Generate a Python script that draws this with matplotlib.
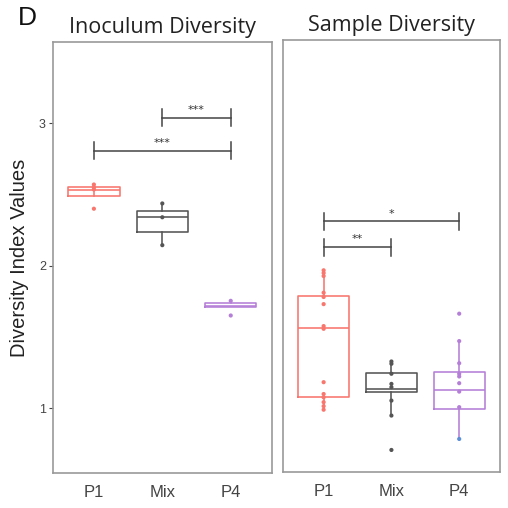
import numpy as np
import matplotlib.pyplot as plt

groups = ['P1', 'Mix', 'P4']
colors = ['#F8766D', '#555555', '#B57ED8']

# box stats: (whislo, q1, med, q3, whishi)
inoc_boxes = [
    (2.55, 2.49, 2.535, 2.553, 2.57),
    (2.144, 2.24, 2.34, 2.387, 2.437),
    (1.707, 1.707, 1.72, 1.735, 1.753),
]
inoc_points = [
    [2.57, 2.55, 2.535, 2.40],
    [2.437, 2.34, 2.144],
    [1.753, 1.65],
]

sample_boxes = [
    (0.98, 1.07, 1.554, 1.774, 1.957),
    (0.939, 1.103, 1.126, 1.239, 1.318),
    (0.775, 0.986, 1.119, 1.246, 1.461),
]
sample_points = [
    [1.957, 1.938, 1.917, 1.80, 1.77, 1.72, 1.566, 1.547, 1.173, 1.09, 1.067, 1.033, 1.005, 0.98],
    [1.318, 1.302, 1.232, 1.161, 1.138, 1.044, 0.939, 0.698],
    [1.653, 1.461, 1.306, 1.232, 1.213, 1.166, 1.107, 0.998, 0.775],
]

# significance brackets: (from, to, height, label)
inoc_sig = [(2, 3, 3.04, '***'), (1, 3, 2.806, '***')]
sample_sig = [(1, 3, 2.30, '*'), (1, 2, 2.118, '**')]

fig = plt.figure(figsize=(5.08, 5.08), dpi=100)
ax1 = fig.add_axes([0.104, 0.069, 0.431, 0.848])
ax2 = fig.add_axes([0.557, 0.071, 0.427, 0.850])


def draw_panel(ax, boxes, points, sigs, title):
    stats = []
    for b in boxes:
        stats.append(dict(whislo=b[0], q1=b[1], med=b[2], q3=b[3], whishi=b[4], fliers=[]))
    for i, st in enumerate(stats):
        c = colors[i]
        ax.bxp([st], positions=[i + 1], widths=0.75, showfliers=False,
               boxprops=dict(color=c, lw=1.15),
               medianprops=dict(color=c, lw=1.15),
               whiskerprops=dict(color=c, lw=1.15),
               capprops=dict(lw=0))
        pc = [c] * len(points[i])
        if i == 2 and title == 'Sample Diversity':
            pc[-1] = '#5B8FD6'
        ax.scatter([i + 1] * len(points[i]), points[i], s=9, color=pc, zorder=4, lw=0)
    for a, b, h, lab in sigs:
        ax.plot([a, b], [h, h], color='#444444', lw=1.1)
        ax.plot([a, a], [h - 0.06, h + 0.06], color='#444444', lw=1.1)
        ax.plot([b, b], [h - 0.06, h + 0.06], color='#444444', lw=1.1)
        ax.text((a + b) / 2, h + 0.02, lab, ha='center', va='bottom', fontsize=8, color='#333333')
    ax.set_xlim(0.4, 3.6)
    ax.set_ylim(0.544, 3.57)
    ax.set_xticks([1, 2, 3])
    ax.set_xticklabels(groups, fontsize=12, color='#444444', family='Liberation Sans')
    ax.tick_params(axis='x', length=0, pad=9)
    for s in ax.spines.values():
        s.set_color('#999999')
        s.set_linewidth(1.2)
    ax.set_title(title, fontsize=15.5, family='Open Sans', color='#222222', pad=6.5)


draw_panel(ax1, inoc_boxes, inoc_points, inoc_sig, 'Inoculum Diversity')
draw_panel(ax2, sample_boxes, sample_points, sample_sig, 'Sample Diversity')

ax1.set_yticks([1, 2, 3])
ax1.set_yticklabels(['1', '2', '3'], fontsize=9, color='#444444', family='Liberation Sans')
ax1.tick_params(axis='y', length=3, color='#444444', pad=2)
ax1.set_ylabel('Diversity Index Values', fontsize=14.5, family='Liberation Sans', color='#222222', labelpad=7)
ax2.set_yticks([])

fig.text(0.035, 0.965, 'D', fontsize=19, family='Liberation Sans', va='center', ha='left', color='#111111')

fig.savefig('out.png', dpi=100, facecolor='white')
